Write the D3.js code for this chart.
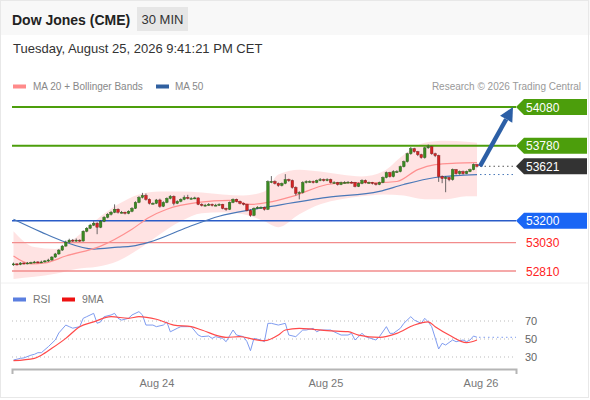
<!DOCTYPE html>
<html><head><meta charset="utf-8">
<script src="https://cdn.jsdelivr.net/npm/d3@7"></script>
<style>
html,body{margin:0;padding:0;background:#fff;}
svg{display:block;font-family:"Liberation Sans",Arial,Helvetica,sans-serif;}
</style></head>
<body><svg id="c" width="590" height="400"></svg>
<script>
// ---------- DATA ----------
const title = "Dow Jones (CME)";
const period = "30 MIN";
const dateText = "Tuesday, August 25, 2026 9:41:21 PM CET";
const credit = "Research \u00a9 2026 Trading Central";

const opens = [52860,52865,52860,52872,52865,52872,52876,52880,52876,52880,52888,52895,52918,52942,52972,53003,53034,53049,53042,53049,
53042,53118,53141,53165,53180,53149,53195,53226,53249,53265,53288,53265,53265,53257,53272,53295,53341,53380,53395,53365,
53334,53334,53360,53311,53341,53372,53388,53334,53349,53365,53380,53372,53372,53376,53326,53318,53320,53326,53318,53320,
53326,53295,53288,53341,53365,53349,53334,53326,53280,53241,53295,53303,53303,53288,53503,53503,53488,53472,53488,53518,
53511,53457,53411,53418,53495,53503,53503,53495,53511,53518,53511,53518,53495,53495,53480,53495,53495,53498,53495,53465,
53488,53511,53495,53495,53488,53480,53495,53534,53572,53541,53580,53580,53618,53657,53718,53757,53734,53711,53688,53764,
53772,53718,53703,53541,53526,53534,53518,53595,53564,53580,53564,53580,53595,53634];
const highs = [52875,52870,52878,52876,52880,52882,52888,52886,52890,52895,52905,52925,52950,52980,53012,53045,53060,53058,53062,53055,
53125,53150,53175,53195,53188,53205,53235,53258,53275,53326,53295,53275,53270,53280,53305,53350,53390,53415,53410,53372,
53342,53368,53370,53350,53380,53398,53395,53358,53372,53395,53400,53382,53385,53380,53334,53330,53336,53332,53330,53334,
53330,53300,53348,53372,53370,53355,53340,53330,53288,53303,53312,53310,53308,53512,53545,53512,53495,53495,53560,53525,
53518,53465,53428,53505,53512,53512,53510,53518,53530,53525,53528,53525,53505,53500,53502,53505,53506,53505,53500,53495,
53520,53518,53502,53500,53492,53502,53542,53580,53578,53590,53590,53626,53665,53726,53770,53764,53740,53718,53772,53790,
53780,53726,53710,53550,53545,53540,53603,53600,53588,53588,53587,53603,53642,53640];
const lows = [52850,52852,52855,52860,52862,52866,52870,52870,52872,52875,52880,52890,52912,52935,52965,52998,53028,53035,53036,53035,
53038,53110,53135,53158,53095,53142,53188,53218,53240,53258,53255,53256,53248,53250,53265,53290,53335,53372,53355,53325,
53326,53328,53300,53305,53335,53365,53318,53328,53342,53358,53365,53365,53366,53320,53310,53310,53314,53310,53312,53314,
53288,53276,53282,53335,53342,53326,53318,53272,53230,53235,53290,53294,53278,53282,53490,53480,53462,53465,53482,53500,
53448,53395,53365,53410,53488,53495,53488,53490,53505,53503,53505,53488,53488,53472,53475,53488,53490,53488,53458,53460,
53482,53488,53488,53480,53472,53475,53490,53528,53534,53535,53570,53574,53612,53650,53710,53726,53700,53680,53680,53755,
53710,53692,53500,53490,53420,53505,53510,53556,53556,53556,53560,53575,53590,53612];
const closes = [52865,52860,52872,52865,52872,52876,52880,52876,52880,52888,52895,52918,52942,52972,53003,53034,53049,53042,53049,53042,
53118,53141,53165,53180,53149,53195,53226,53249,53265,53288,53265,53265,53257,53272,53295,53341,53380,53395,53365,53334,
53334,53360,53311,53341,53372,53388,53334,53349,53365,53380,53372,53372,53376,53326,53318,53320,53326,53318,53320,53326,
53295,53288,53341,53365,53349,53334,53326,53280,53241,53295,53303,53303,53288,53503,53503,53488,53472,53488,53518,53511,
53457,53411,53418,53495,53503,53503,53495,53511,53518,53511,53518,53495,53495,53480,53495,53495,53498,53495,53465,53488,
53511,53495,53495,53488,53480,53495,53534,53572,53541,53580,53580,53618,53657,53718,53757,53734,53711,53688,53764,53772,
53718,53703,53541,53526,53534,53518,53595,53564,53580,53564,53580,53595,53634,53621];

// Bollinger bands (sampled at candle index)
const bandIdx   = [0,6,12,18,24,30,36,42,48,54,60,66,72,76,82,88,94,100,106,112,118,124,130,133];
const bandUpper = [53118,52995,52980,53072,53211,53326,53403,53426,53426,53418,53403,53395,53426,53557,53595,53580,53557,53542,53580,53711,53803,53818,53811,53803];
const bandLower = [52749,52765,52788,52826,52842,52888,52980,53095,53195,53257,53265,53249,53195,53149,53249,53326,53365,53388,53403,53395,53365,53365,53388,53388];
// MA 20
const ma20Idx = [0,5,9,15,25,34,39,44,53,62,68,73,80,90,96,105,110,116,121,127,133];
const ma20    = [52926,52865,52872,52926,53003,53134,53226,53288,53341,53357,53326,53341,53388,53480,53495,53495,53503,53595,53634,53645,53649];
// MA 50
const ma50Idx = [0,8,14,23,30,34,39,50,59,69,74,90,105,112,121,133];
const ma50    = [53211,53111,53042,52980,52995,53003,53034,53149,53234,53288,53311,53380,53426,53480,53534,53557];

// RSI
const rsiIdx = [0,2,3,5,6,7,8,10,12,13,15,16,17,19,20,21,23,24,25,26,28,29,30,31,33,34,36,37,38,40,41,43,44,45,47,48,50,51,53,54,56,57,58,60,61,63,64,66,67,68,69,71,72,73,74,76,78,79,81,83,84,86,87,88,91,92,94,96,97,98,100,101,104,105,107,108,109,111,112,114,115,117,118,119,120,122,123,124,126,127,129,130,131,132,133];
const rsiVal = [26.7,28.5,29,32,33,34.8,34.8,41.5,49,56.7,65.5,63.7,62,63.7,73,74.8,78.5,67.5,69,74.8,76.7,78.5,73,71,73,76.7,80.4,76.7,65.5,65.5,63.7,65.5,69,58,61.9,63.7,63.7,63.7,54.4,52.6,53.3,50.7,52.6,50.7,47,60,54.4,52.6,47,37,50.7,48.9,47,67.4,67.4,65.5,67.4,54.4,52.6,60,60,61.9,58,60,60,58,54.4,54.4,56.3,48.9,56.3,52.6,48.9,52.6,63.7,56.3,56.3,61.9,67.4,74.8,71,67.4,73,69,63.7,38.9,45.2,43.3,48.9,47,48.9,47,48.9,53.3,51.9];
// 9MA of RSI
const maRsiIdx = [0,6,8,11,15,19,23,28,33,36,41,46,51,54,61,65,69,72,76,78,82,86,90,96,99,105,110,115,119,121,125,130,133];
const maRsiVal = [25.9,28.5,32,39.6,50.7,63.7,69,74.8,73,74.8,71.9,65.5,63.7,60,51.9,52.6,49.6,48.1,54.4,60,61.9,60.7,59.3,58.1,54.4,51.9,56.3,65.5,69,63.7,54.4,45.9,48.9];

// Levels
const resistances = [54080, 53780];
const supports = [53030, 52810];
const pivot = 53200;
const lastPrice = 53621;
const target = 54080;
const rsiTicks = [70, 50, 30];
const timeTickIdx = [41, 89.5, 134];
const timeTickLabels = ["Aug 24", "Aug 25", "Aug 26"];

// ---------- DRAW ----------
const svg = d3.select("#c");
const W = 590, H = 400;
const font = '"Liberation Sans",Arial,Helvetica,sans-serif';

svg.append("rect").attr("x",0).attr("y",0).attr("width",W).attr("height",H).attr("fill","#fff");
svg.append("rect").attr("x",0).attr("y",0).attr("width",W).attr("height",35).attr("fill","#f8f8f8");
svg.append("rect").attr("x",0.5).attr("y",0.5).attr("width",W-2).attr("height",H-3)
  .attr("fill","none").attr("stroke","#e8e8e8");

// header
svg.append("text").attr("x",12).attr("y",25).attr("font-size",14).attr("font-weight","bold")
  .attr("fill","#222").text(title);
svg.append("rect").attr("x",137).attr("y",7).attr("width",51).attr("height",24).attr("fill","#e6e6e6");
svg.append("text").attr("x",162.5).attr("y",24).attr("text-anchor","middle").attr("font-size",13)
  .attr("fill","#333").text(period);
svg.append("text").attr("x",13).attr("y",53).attr("font-size",13).attr("fill","#333").text(dateText);

// legend main
svg.append("rect").attr("x",13).attr("y",84.5).attr("width",13).attr("height",4).attr("fill","#ff8a8a");
svg.append("text").attr("x",33).attr("y",90).attr("font-size",10).attr("fill","#888").text("MA 20 + Bollinger Bands");
svg.append("rect").attr("x",156).attr("y",84.5).attr("width",13).attr("height",4).attr("fill","#3060a0");
svg.append("text").attr("x",175).attr("y",90).attr("font-size",10).attr("fill","#888").text("MA 50");
svg.append("text").attr("x",581).attr("y",90).attr("text-anchor","end").attr("font-size",10).attr("fill","#999").text(credit);

// scales
const x = d3.scaleLinear().domain([0,133]).range([13.5,477]);
const y = d3.scaleLinear().domain([52810,54080]).range([271,107]);
const yr = d3.scaleLinear().domain([30,70]).range([357,321]);
const plotL = 12, plotR = 516;

// bollinger band
const band = bandIdx.map((d,i)=>({i:d,u:bandUpper[i],l:bandLower[i]}));
svg.append("path").datum(band)
  .attr("d", d3.area().x(d=>x(d.i)).y0(d=>y(d.l)).y1(d=>y(d.u)).curve(d3.curveMonotoneX))
  .attr("fill","#ffdede").attr("opacity",0.85);

// level lines
const lvl = svg.append("g");
resistances.forEach(v=>{
  lvl.append("line").attr("x1",plotL).attr("x2",plotR).attr("y1",y(v)).attr("y2",y(v))
    .attr("stroke","#4c9e0c").attr("stroke-width",2);
});
lvl.append("line").attr("x1",plotL).attr("x2",plotR).attr("y1",y(pivot)).attr("y2",y(pivot))
  .attr("stroke","#2a5cc8").attr("stroke-width",1.5);
supports.forEach(v=>{
  lvl.append("line").attr("x1",plotL).attr("x2",plotR).attr("y1",y(v)).attr("y2",y(v))
    .attr("stroke","#f28c8c").attr("stroke-width",1.3);
});

// MA lines
svg.append("path").datum(ma50Idx.map((d,i)=>[d,ma50[i]]))
  .attr("d", d3.line().x(d=>x(d[0])).y(d=>y(d[1])).curve(d3.curveMonotoneX))
  .attr("fill","none").attr("stroke","#4a78b8").attr("stroke-width",1.2);
svg.append("path").datum(ma20Idx.map((d,i)=>[d,ma20[i]]))
  .attr("d", d3.line().x(d=>x(d[0])).y(d=>y(d[1])).curve(d3.curveMonotoneX))
  .attr("fill","none").attr("stroke","#ff9090").attr("stroke-width",1.2);

// candles
const candles = closes.map((c,i)=>({i,o:opens[i],h:highs[i],l:lows[i],c}));
const cg = svg.append("g");
cg.selectAll("line.w").data(candles).join("line")
  .attr("x1",d=>x(d.i)).attr("x2",d=>x(d.i)).attr("y1",d=>y(d.h)).attr("y2",d=>y(d.l))
  .attr("stroke","#444").attr("stroke-width",0.8);
const bw = 2.6;
cg.selectAll("rect.b").data(candles).join("rect")
  .attr("x",d=>x(d.i)-bw/2).attr("width",bw)
  .attr("y",d=>y(Math.max(d.o,d.c)))
  .attr("height",d=>Math.max(1,Math.abs(y(d.o)-y(d.c))))
  .attr("fill",d=>d.c>=d.o?"#3a8a22":"#d42424")
  .attr("stroke",d=>d.c>=d.o?"#2a5a18":"#7a1818").attr("stroke-width",0.4);

// dotted extensions
const lastI = closes.length-1;
svg.append("line").attr("x1",x(lastI)+3).attr("x2",plotR).attr("y1",y(lastPrice)).attr("y2",y(lastPrice))
  .attr("stroke","#555").attr("stroke-dasharray","1.5,3").attr("stroke-width",1);
svg.append("line").attr("x1",x(lastI)+3).attr("x2",plotR).attr("y1",y(ma50[ma50.length-1])).attr("y2",y(ma50[ma50.length-1]))
  .attr("stroke","#4a78b8").attr("stroke-dasharray","1.5,3").attr("stroke-width",1);

// arrow
const ax0 = x(lastI)+3, ay0 = y(lastPrice), ax1 = 513, ay1 = y(target);
const ang = Math.atan2(ay1-ay0, ax1-ax0);
const headLen = 14, headW = 7;
const bx = ax1 - headLen*Math.cos(ang), by = ay1 - headLen*Math.sin(ang);
svg.append("line").attr("x1",ax0).attr("y1",ay0).attr("x2",bx).attr("y2",by)
  .attr("stroke","#2c5fa6").attr("stroke-width",4.5);
const px = -Math.sin(ang), py = Math.cos(ang);
svg.append("path").attr("d",`M${ax1},${ay1}L${bx+px*headW},${by+py*headW}L${bx-px*headW},${by-py*headW}Z`)
  .attr("fill","#2c5fa6");

// tags
function tag(v, color){
  const yy = y(v);
  const g = svg.append("g");
  g.append("path").attr("d",`M516,${yy}L524,${yy-8}L587,${yy-8}L587,${yy+8}L524,${yy+8}Z`).attr("fill",color);
  g.append("text").attr("x",526).attr("y",yy+4.5).attr("font-size",12).attr("fill","#fff").text(v);
}
resistances.forEach(v=>tag(v,"#4c9e0c"));
tag(lastPrice,"#333333");
tag(pivot,"#1a66f5");
supports.forEach(v=>{
  svg.append("text").attr("x",526).attr("y",y(v)+4.5).attr("font-size",12).attr("fill","#ff2222").text(v);
});

// separator
svg.append("line").attr("x1",1).attr("x2",588).attr("y1",283).attr("y2",283).attr("stroke","#f0f0f0");

// RSI legend
svg.append("rect").attr("x",13).attr("y",297.5).attr("width",13).attr("height",4).attr("fill","#5b7fe0");
svg.append("text").attr("x",33).attr("y",303).attr("font-size",10.5).attr("fill","#777").text("RSI");
svg.append("rect").attr("x",62).attr("y",297.5).attr("width",13).attr("height",4).attr("fill","#ee1111");
svg.append("text").attr("x",82).attr("y",303).attr("font-size",10.5).attr("fill","#777").text("9MA");

// RSI grid
rsiTicks.forEach(v=>{
  svg.append("line").attr("x1",plotL).attr("x2",plotR).attr("y1",yr(v)).attr("y2",yr(v))
    .attr("stroke","#bbb").attr("stroke-dasharray","1,3").attr("stroke-width",1);
  svg.append("text").attr("x",525).attr("y",yr(v)+4).attr("font-size",11).attr("fill","#666").text(v);
});
const rsiPts = rsiIdx.map((d,i)=>[d,rsiVal[i]]);
svg.append("path").datum(rsiPts)
  .attr("d", d3.line().x(d=>x(d[0])).y(d=>yr(d[1])))
  .attr("fill","none").attr("stroke","#7f9cf0").attr("stroke-width",1);
svg.append("path").datum(maRsiIdx.map((d,i)=>[d,maRsiVal[i]]))
  .attr("d", d3.line().x(d=>x(d[0])).y(d=>yr(d[1])).curve(d3.curveMonotoneX))
  .attr("fill","none").attr("stroke","#ff4a4a").attr("stroke-width",1.2);
const lastR = rsiVal[rsiVal.length-1];
svg.append("line").attr("x1",x(lastI)+2).attr("x2",plotR).attr("y1",yr(lastR)).attr("y2",yr(lastR))
  .attr("stroke","#7f9cf0").attr("stroke-dasharray","1.5,3").attr("stroke-width",1);

// x axis
const xa = x.copy().domain([x.invert(plotL), x.invert(plotR)]).range([plotL, plotR]);
const axis = d3.axisBottom(xa).tickValues(timeTickIdx)
  .tickFormat((d,i)=>timeTickLabels[i]).tickSizeInner(0).tickSizeOuter(5).tickPadding(10);
const axg = svg.append("g").attr("transform","translate(0,369)").call(axis);
axg.select(".domain").attr("stroke","#b5b5b5").attr("stroke-width",2);
axg.selectAll("text").attr("font-size",11).attr("fill","#777").attr("font-family",font);
</script></body></html>
